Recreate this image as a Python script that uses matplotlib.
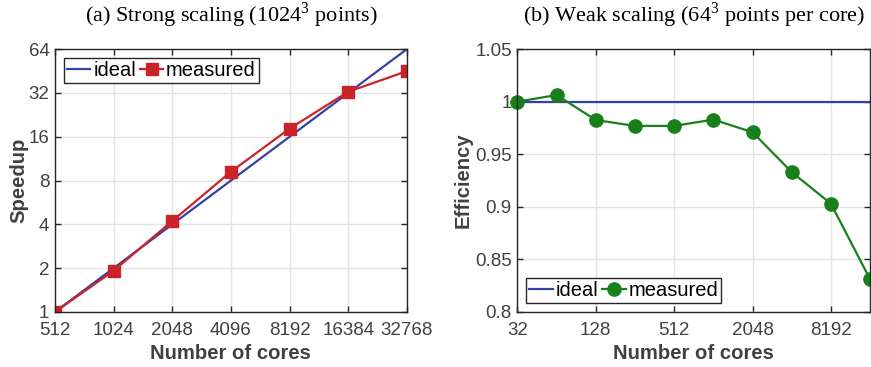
import matplotlib
matplotlib.use("Agg")
import matplotlib.pyplot as plt
from matplotlib.ticker import FixedLocator, FixedFormatter, NullLocator

# Strong scaling: 1024^3 points
strong_cores = [512, 1024, 2048, 4096, 8192, 16384, 32768]
strong_ideal = [1, 2, 4, 8, 16, 32, 64]
strong_measured = [1, 1.92, 4.22, 9.2, 18.2, 32.6, 45.2]
strong_ticks = [1, 2, 4, 8, 16, 32, 64]

# Weak scaling: 64^3 points per core
weak_cores = [32, 64, 128, 256, 512, 1024, 2048, 4096, 8192, 16384]
weak_ideal = [1.0] * len(weak_cores)
weak_measured = [1.0, 1.0064, 0.9826, 0.977, 0.977, 0.983, 0.971, 0.933, 0.903, 0.831]
weak_xticks = [32, 128, 512, 2048, 8192]
weak_yticks = [0.8, 0.85, 0.9, 0.95, 1.0, 1.05]
weak_yticklabels = ["0.8", "0.85", "0.9", "0.95", "1", "1.05"]

blue = "#3342A6"
red = "#CC2229"
green = "#18801A"
axis_col = "#262626"
tick_col = "#404040"

plt.rcParams["font.family"] = ["Liberation Sans", "DejaVu Sans"]
plt.rcParams["mathtext.fontset"] = "custom"
plt.rcParams["mathtext.rm"] = "Liberation Serif"

fig = plt.figure(figsize=(8.71, 3.67), dpi=100)
ax1 = fig.add_axes([0.0631, 0.150, 0.404, 0.716])
ax2 = fig.add_axes([0.594, 0.150, 0.405, 0.716])


def style(ax):
    ax.grid(True, color="#e3e3e3", linewidth=1.0)
    ax.set_axisbelow(True)
    for s in ax.spines.values():
        s.set_color(axis_col)
        s.set_linewidth(1.0)
    ax.tick_params(direction="in", top=True, right=True, length=4,
                   width=1.0, color=axis_col, labelcolor=tick_col,
                   labelsize=13.5)
    ax.tick_params(axis="x", pad=7)
    ax.tick_params(axis="y", pad=4)
    ax.xaxis.set_minor_locator(NullLocator())
    ax.yaxis.set_minor_locator(NullLocator())


def legend(ax, loc):
    leg = ax.legend(loc=loc, ncol=2, fontsize=14.5, handlelength=1.15,
                    handletextpad=0.15, columnspacing=0.2, borderpad=0.15,
                    fancybox=False, framealpha=1, borderaxespad=0.45)
    leg.get_frame().set_edgecolor(axis_col)
    leg.get_frame().set_linewidth(1.0)


# (a) strong scaling
ax1.plot(strong_cores, strong_ideal, color=blue, linewidth=1.6, label="ideal")
ax1.plot(strong_cores, strong_measured, color=red, linewidth=1.6, marker="s",
         markersize=9, label="measured")
ax1.set_xscale("log", base=2)
ax1.set_yscale("log", base=2)
ax1.set_xlim(512, 32768)
ax1.set_ylim(1, 64)
ax1.xaxis.set_major_locator(FixedLocator(strong_cores))
ax1.xaxis.set_major_formatter(FixedFormatter([str(c) for c in strong_cores]))
ax1.yaxis.set_major_locator(FixedLocator(strong_ticks))
ax1.yaxis.set_major_formatter(FixedFormatter([str(t) for t in strong_ticks]))
style(ax1)
ax1.set_xlabel("Number of cores", fontsize=14.6, fontweight="bold",
               color=tick_col, labelpad=4)
ax1.set_ylabel("Speedup", fontsize=14.6, fontweight="bold", color=tick_col,
               labelpad=0)
ax1.set_title(r"(a) Strong scaling (1024$^3$ points)", fontsize=16,
              family="Liberation Serif", pad=20)
legend(ax1, "upper left")

# (b) weak scaling
ax2.plot(weak_cores, weak_ideal, color=blue, linewidth=1.6, label="ideal")
ax2.plot(weak_cores, weak_measured, color=green, linewidth=1.6, marker="o",
         markersize=9.5, label="measured", clip_on=False)
ax2.set_xscale("log", base=2)
ax2.set_xlim(32, 16384)
ax2.set_ylim(0.8, 1.05)
ax2.xaxis.set_major_locator(FixedLocator(weak_xticks))
ax2.xaxis.set_major_formatter(FixedFormatter([str(c) for c in weak_xticks]))
ax2.yaxis.set_major_locator(FixedLocator(weak_yticks))
ax2.yaxis.set_major_formatter(FixedFormatter(weak_yticklabels))
style(ax2)
ax2.set_xlabel("Number of cores", fontsize=14.6, fontweight="bold",
               color=tick_col, labelpad=4)
ax2.set_ylabel("Efficiency", fontsize=14.6, fontweight="bold", color=tick_col,
               labelpad=2)
ax2.set_title(r"(b) Weak scaling (64$^3$ points per core)", fontsize=16,
              family="Liberation Serif", pad=20)
legend(ax2, "lower left")

fig.savefig("out.png", dpi=100)
